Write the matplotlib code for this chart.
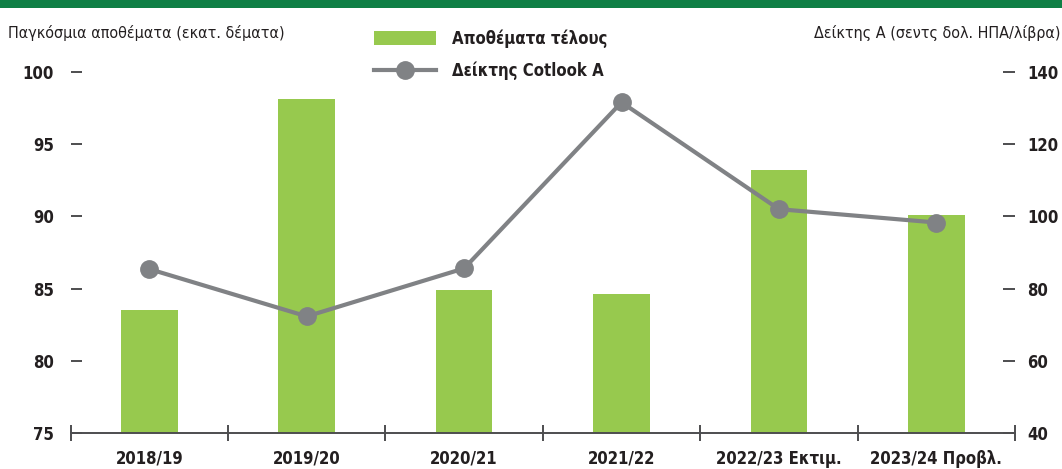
"""
World cotton ending stocks vs Cotlook A index - bar + line on twin axes.
"""

import matplotlib
matplotlib.use("Agg")
import matplotlib.pyplot as plt
from matplotlib.lines import Line2D
from matplotlib.patches import Patch, Rectangle

# ── Data ───────────────────────────────────────────────────────────────────────
seasons = ["2018/19", "2019/20", "2020/21", "2021/22", "2022/23 Εκτιμ.", "2023/24 Προβλ."]
stocks = [83.5, 98.1, 84.9, 84.6, 93.2, 90.1]          # εκατ. δέματα
cotlook_a = [85.4, 72.3, 85.6, 131.6, 102.0, 98.3]     # σεντς δολ. ΗΠΑ/λίβρα

left_ticks = [75, 80, 85, 90, 95, 100]
right_ticks = [40, 60, 80, 100, 120, 140]

# ── Style ──────────────────────────────────────────────────────────────────────
BAR_COLOR = "#97c94e"
LINE_COLOR = "#808285"
TEXT_COLOR = "#231f20"
AXIS_COLOR = "#4d4d4f"
BAND_COLOR = "#0f7f45"

plt.rcParams["font.family"] = ["DejaVu Sans"]
plt.rcParams["font.stretch"] = "condensed"

fig = plt.figure(figsize=(10.62, 4.69), dpi=100)
ax = fig.add_axes([0.0666, 0.0768, 0.8891, 0.7697])
ax2 = ax.twinx()

x = list(range(len(seasons)))
ax.bar(x, stocks, width=0.36, color=BAR_COLOR, zorder=2)
ax2.plot(x, cotlook_a, color=LINE_COLOR, lw=3.0, marker="o", ms=12.5,
         solid_capstyle="round", zorder=3)

# ── Axes ───────────────────────────────────────────────────────────────────────
ax.set_xlim(-0.5, len(seasons) - 0.5)
ax.set_ylim(75, 100)
ax2.set_ylim(40, 140)

for spine in ["top", "left", "right"]:
    ax.spines[spine].set_visible(False)
    ax2.spines[spine].set_visible(False)
ax2.spines["bottom"].set_visible(False)
ax.spines["bottom"].set_color(AXIS_COLOR)
ax.spines["bottom"].set_linewidth(1.4)

# x: ticks on category boundaries, labels on centres
ax.set_xticks([i - 0.5 for i in range(len(seasons) + 1)])
ax.set_xticklabels([])
ax.set_xticks(x, minor=True)
ax.set_xticklabels(seasons, minor=True, fontsize=12, fontweight="bold", color=TEXT_COLOR)
ax.tick_params(axis="x", which="major", direction="inout", length=11, width=1.4, color=AXIS_COLOR)
ax.tick_params(axis="x", which="minor", length=0, pad=12)

ax.set_yticks(left_ticks)
ax.set_yticklabels([str(t) for t in left_ticks], fontsize=12, fontweight="bold", color=TEXT_COLOR)
ax.tick_params(axis="y", direction="in", length=8, width=1.4, color=AXIS_COLOR, pad=12)

ax2.set_yticks(right_ticks)
ax2.set_yticklabels([str(t) for t in right_ticks], fontsize=12, fontweight="bold", color=TEXT_COLOR)
ax2.tick_params(axis="y", direction="in", length=9, width=1.4, color=AXIS_COLOR, pad=9)

# ── Titles & legend ────────────────────────────────────────────────────────────
fig.text(0.008, 0.93, "Παγκόσμια αποθέματα (εκατ. δέματα)", fontsize=11.5,
         color=TEXT_COLOR, va="center", ha="left")
fig.text(0.999, 0.93, "Δείκτης Α (σεντς δολ. ΗΠΑ/λίβρα)", fontsize=11.5,
         color=TEXT_COLOR, va="center", ha="right")

handles = [
    Patch(facecolor=BAR_COLOR, edgecolor="none"),
    Line2D([], [], color=LINE_COLOR, lw=3.0, marker="o", ms=12.5),
]
labels = ["Αποθέματα τέλους", "Δείκτης Cotlook A"]
leg = fig.legend(handles, labels, loc="upper left", bbox_to_anchor=(0.338, 0.97),
                 frameon=False, handlelength=3.7, handleheight=0.9, handletextpad=1.0,
                 labelspacing=0.85, prop={"size": 12, "weight": "bold"})
for t in leg.get_texts():
    t.set_color(TEXT_COLOR)

# green band along the top edge
fig.add_artist(Rectangle((0, 0.982), 1, 0.018, transform=fig.transFigure,
                         facecolor=BAND_COLOR, edgecolor="none"))

fig.savefig("out.png", dpi=100)
